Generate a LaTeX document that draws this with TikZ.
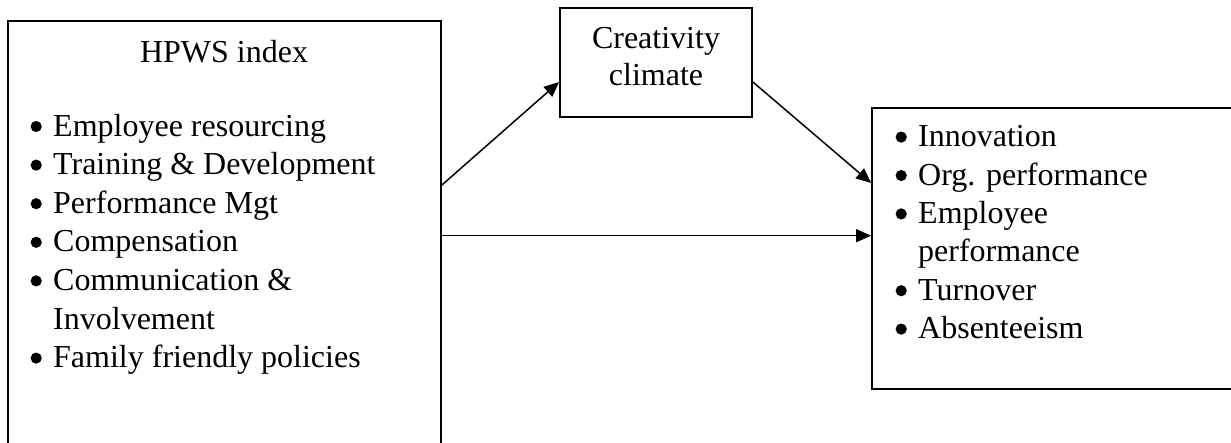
\documentclass[tikz,border=0pt]{standalone}
\usepackage{fontspec}
\setmainfont{Liberation Serif}
\usetikzlibrary{arrows.meta}
\tikzset{
  box/.style={draw, line width=1.8pt, inner sep=0pt},
  txt/.style={inner sep=0pt, font=\fontsize{32}{38.6}\selectfont},
  item/.style={txt, anchor=base west},
  arr/.style={line width=1.5pt, -{Triangle[length=15pt,width=13pt]}}
}
\newcommand{\bul}{\makebox[0pt][r]{\tikz[baseline=-9.5pt]{\fill (0pt,0pt) circle[radius=5.6pt];}\hspace{11.4pt}}}
\begin{document}
\begin{tikzpicture}[x=1pt,y=-1pt]
\useasboundingbox (0,0) rectangle (1231,442);
\fill[white] (0,0) rectangle (1231,442);
% boxes
\node[box, minimum width=433pt, minimum height=429.4pt] (hpws) at (224.5,235.7) {};
\node[box, minimum width=192pt, minimum height=109pt] (cc) at (656,62.5) {};
\node[box, minimum width=388pt, minimum height=281pt] (out) at (1066,248.5) {};
% left box text
\node[txt, anchor=base] (t0) at (224,62) {HPWS index};
\node[item] (l1) at (53,136) {\bul Employee resourcing};
\node[item] (l2) at (53,174.6) {\bul Training \& Development};
\node[item] (l3) at (53,213.2) {\bul Performance Mgt};
\node[item] (l4) at (53,251.8) {\bul Compensation};
\node[item] (l5) at (53,290.4) {\bul Communication \&};
\node[item] (l6) at (53,329) {Involvement};
\node[item] (l7) at (53,367.6) {\bul Family friendly policies};
% creativity
\node[txt, anchor=base] (c1) at (656,48) {Creativity};
\node[txt, anchor=base] (c2) at (656,85) {climate};
% right box text
\node[item] (r1) at (918,146.6) {\bul Innovation};
\node[item] (r2) at (918,185) {\bul Org. performance};
\node[item] (r3) at (918,223.4) {\bul Employee};
\node[item] (r4) at (918,261.8) {performance};
\node[item] (r5) at (918,300.2) {\bul Turnover};
\node[item] (r6) at (918,338.6) {\bul Absenteeism};
% arrows
\draw[arr] ([yshift=50.7pt]hpws.east) -- ([yshift=-19.5pt]cc.west);
\draw[arr] ([yshift=-19.5pt]cc.east) -- ([yshift=65.5pt]out.west);
\draw[arr] (hpws.east) -- (hpws.east -| out.west);
\end{tikzpicture}
\end{document}
